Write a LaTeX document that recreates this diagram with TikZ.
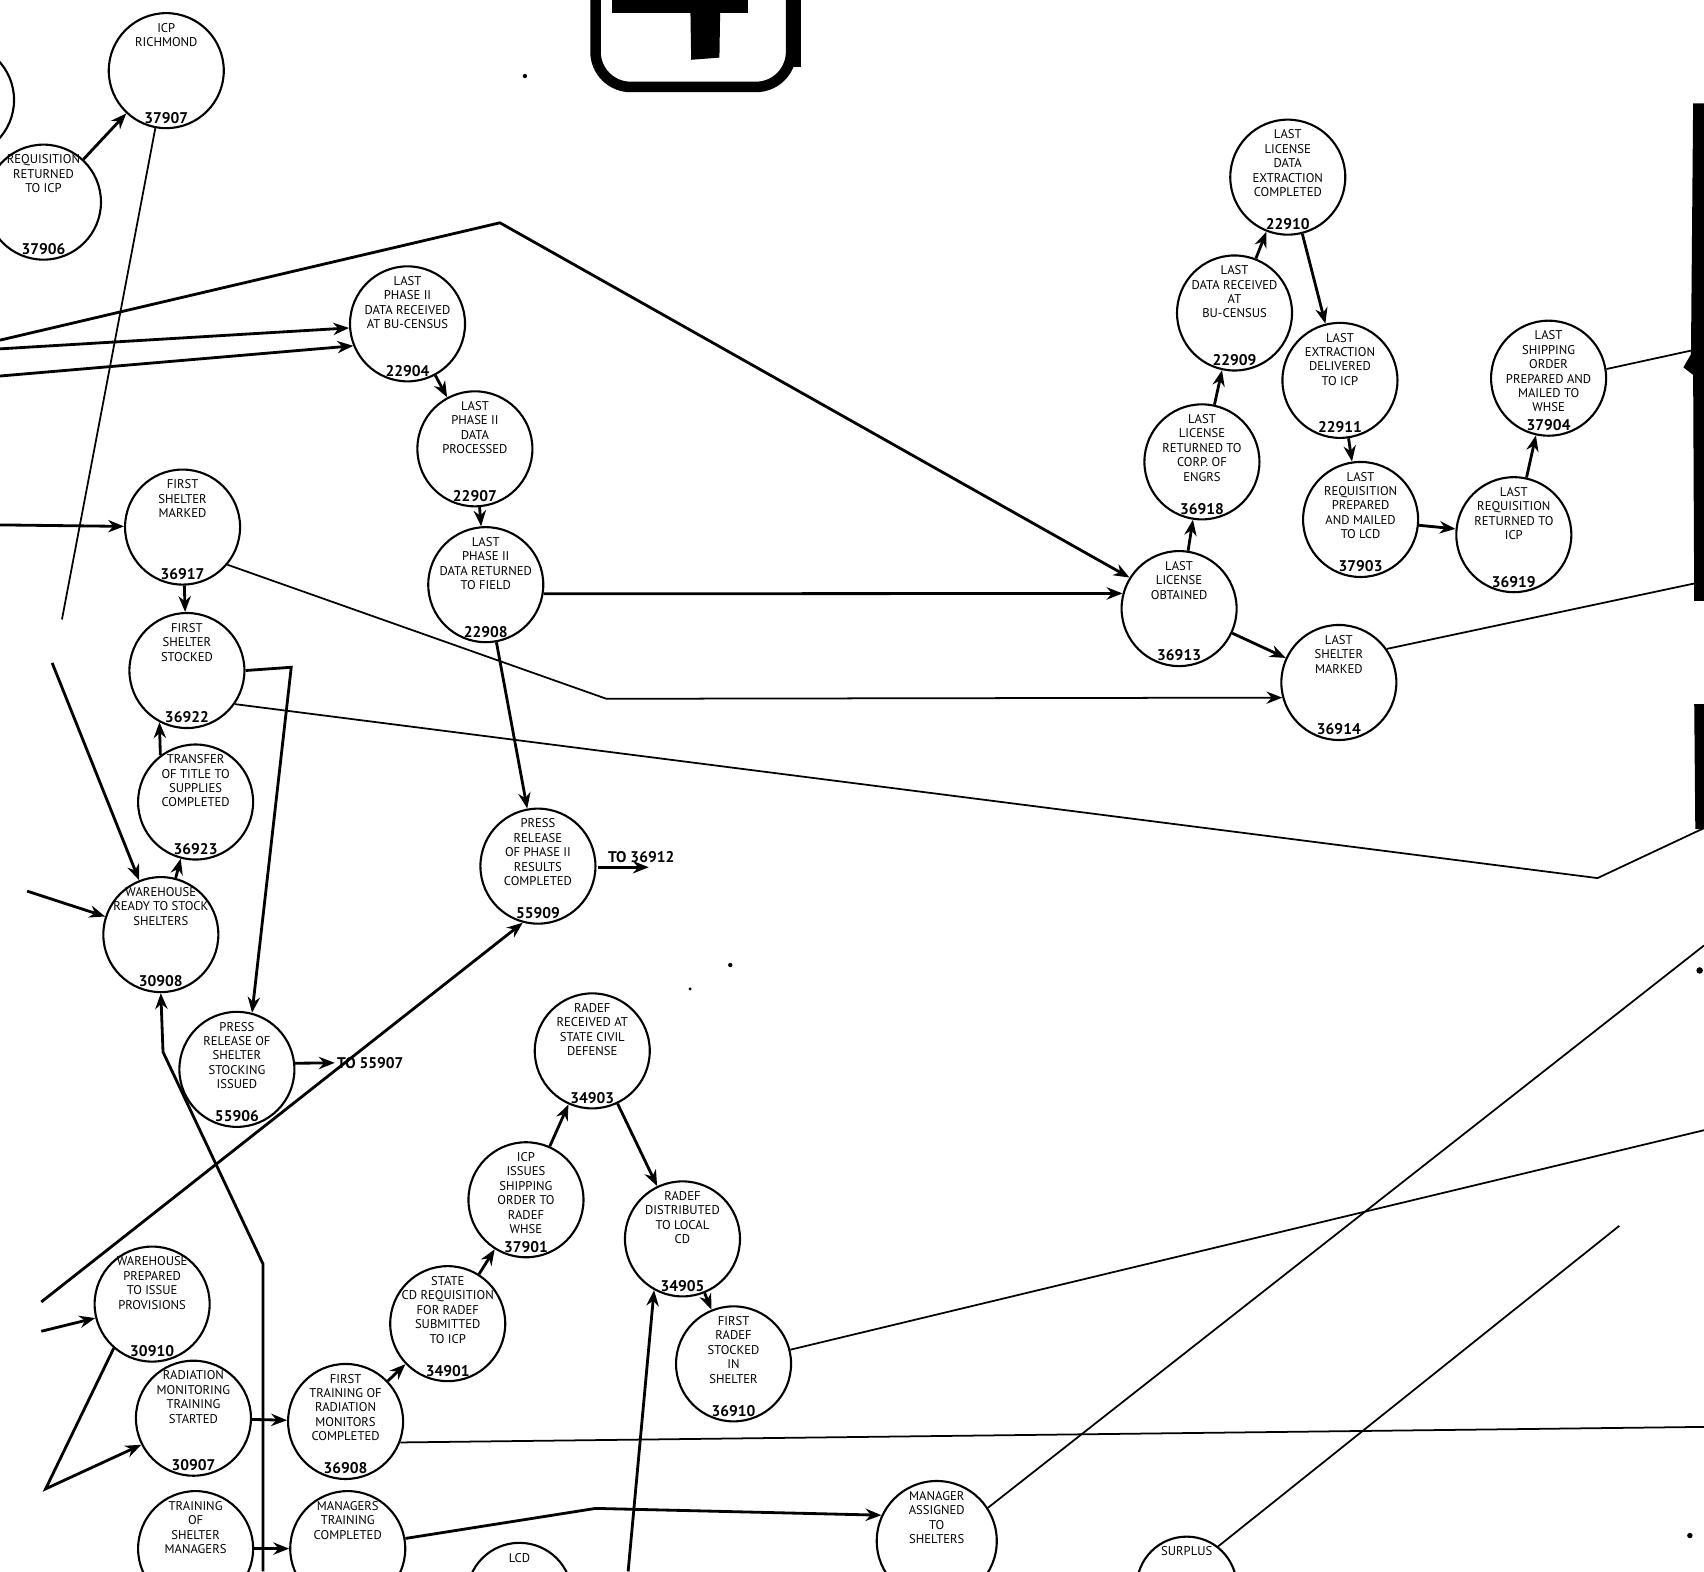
\documentclass[tikz,border=0pt]{standalone}
\usepackage{fontspec}
\setmainfont{PT Sans}
\usetikzlibrary{arrows.meta}

\begin{document}
\begin{tikzpicture}[x=0.0108675cm,y=-0.0108675cm,
    ev/.style 2 args={shape=circle,draw=black,line width=0.6pt,minimum size=1.15cm,inner sep=0pt,
      label={[evtext]90:#1},label={[evnum]-90:#2}},
    evtext/.style={anchor=north,yshift=-2.5pt,align=center,inner sep=0.5pt,font=\fontsize{3.6}{4.1}\selectfont},
    evnum/.style={anchor=south,yshift=1pt,inner sep=0.5pt,font=\fontsize{4.4}{5}\selectfont\bfseries},
    arr/.style={-{Stealth[length=4.5pt,width=3.5pt]},line width=0.8pt},
    wire/.style={line width=0.5pt},
    note/.style={font=\fontsize{4.4}{5}\selectfont\bfseries,inner sep=0.5pt}]
    \useasboundingbox (0,0) rectangle (1568,1446);
    \clip (0,0) rectangle (1568,1446);

    % page number box
    \draw[line width=3pt,rounded corners=10pt] (548,-30) -- (548,80) -- (728,80) -- (728,-30);
    \draw[line width=4pt] (731,-30) -- (731,62);
    \fill (563,-10) rectangle (688,12);
    \fill (635,-10) -- (663,-10) -- (662,53) -- (636,55) -- cycle;
    % right border of the sheet
    \fill (1558,95) -- (1568,95) -- (1568,553) -- (1559,553) -- (1558,345) -- (1549,338) -- (1556,326) -- cycle;
    \fill (1559,648) -- (1568,648) -- (1568,763) -- (1560,763) -- cycle;
    \fill (1564,893) circle (3);

    % events
    \node[ev={}{}] (Eleft) at (-40,92) {};
    \node[ev={ICP\\RICHMOND}{37907}] (E37907) at (153,65) {};
    \node[ev={REQUISITION\\RETURNED\\TO ICP}{37906}] (E37906) at (40,186) {};
    \node[ev={LAST\\PHASE II\\DATA RECEIVED\\AT BU-CENSUS}{22904}] (E22904) at (375,298) {};
    \node[ev={LAST\\PHASE II\\DATA\\PROCESSED}{22907}] (E22907) at (437,413) {};
    \node[ev={LAST\\PHASE II\\DATA RETURNED\\TO FIELD}{22908}] (E22908) at (447,538) {};
    \node[ev={FIRST\\SHELTER\\MARKED}{36917}] (E36917) at (168,485) {};
    \node[ev={FIRST\\SHELTER\\STOCKED}{36922}] (E36922) at (172,617) {};
    \node[ev={TRANSFER\\OF TITLE TO\\SUPPLIES\\COMPLETED}{36923}] (E36923) at (180,738) {};
    \node[ev={WAREHOUSE\\READY TO STOCK\\SHELTERS}{30908}] (E30908) at (148,860) {};
    \node[ev={PRESS\\RELEASE OF\\SHELTER\\STOCKING\\ISSUED}{55906}] (E55906) at (218,984) {};
    \node[ev={PRESS\\RELEASE\\OF PHASE II\\RESULTS\\COMPLETED}{55909}] (E55909) at (495,797) {};
    \node[ev={RADEF\\RECEIVED AT\\STATE CIVIL\\DEFENSE}{34903}] (E34903) at (545,967) {};
    \node[ev={ICP\\ISSUES\\SHIPPING\\ORDER TO\\RADEF\\WHSE}{37901}] (E37901) at (484,1104) {};
    \node[ev={RADEF\\DISTRIBUTED\\TO LOCAL\\CD}{34905}] (E34905) at (628,1140) {};
    \node[ev={FIRST\\RADEF\\STOCKED\\IN\\SHELTER}{36910}] (E36910) at (675,1255) {};
    \node[ev={STATE\\CD REQUISITION\\FOR RADEF\\SUBMITTED\\TO ICP}{34901}] (E34901) at (412,1218) {};
    \node[ev={WAREHOUSE\\PREPARED\\TO ISSUE\\PROVISIONS}{30910}] (E30910) at (140,1200) {};
    \node[ev={RADIATION\\MONITORING\\TRAINING\\STARTED}{30907}] (E30907) at (178,1305) {};
    \node[ev={FIRST\\TRAINING OF\\RADIATION\\MONITORS\\COMPLETED}{36908}] (E36908) at (318,1308) {};
    \node[ev={TRAINING\\OF\\SHELTER\\MANAGERS}{}] (Etrain) at (180,1425) {};
    \node[ev={MANAGERS\\TRAINING\\COMPLETED}{}] (Emgrtrain) at (320,1425) {};
    \node[ev={LCD}{},minimum size=1.05cm] (Elcd) at (478,1468) {};
    \node[ev={MANAGER\\ASSIGNED\\TO\\SHELTERS}{},minimum size=1.2cm] (Emgrasg) at (862,1418) {};
    \node[ev={SURPLUS}{},minimum size=1cm] (Esurplus) at (1092,1460) {};
    \node[ev={LAST\\LICENSE\\DATA\\EXTRACTION\\COMPLETED}{22910}] (E22910) at (1185,163) {};
    \node[ev={LAST\\DATA RECEIVED\\AT\\BU-CENSUS}{22909}] (E22909) at (1136,288) {};
    \node[ev={LAST\\EXTRACTION\\DELIVERED\\TO ICP}{22911}] (E22911) at (1233,350) {};
    \node[ev={LAST\\LICENSE\\RETURNED TO\\CORP. OF\\ENGRS}{36918}] (E36918) at (1106,425) {};
    \node[ev={LAST\\REQUISITION\\PREPARED\\AND MAILED\\TO LCD}{37903}] (E37903) at (1252,478) {};
    \node[ev={LAST\\REQUISITION\\RETURNED TO\\ICP}{36919}] (E36919) at (1393,492) {};
    \node[ev={LAST\\SHIPPING\\ORDER\\PREPARED AND\\MAILED TO\\WHSE}{37904}] (E37904) at (1425,348) {};
    \node[ev={LAST\\LICENSE\\OBTAINED}{36913}] (E36913) at (1085,560) {};
    \node[ev={LAST\\SHELTER\\MARKED}{36914}] (E36914) at (1232,628) {};

    \node[note,anchor=west] (N55907) at (308,978) {TO 55907};
    \node[note] (N36912) at (590,789) {TO 36912};

    % loose ends
    \coordinate (L1) at (0,313);
    \coordinate (L2) at (0,321);
    \coordinate (L3) at (0,346);
    \coordinate (L4) at (0,483);
    \coordinate (P1) at (460,205);
    \coordinate (K1) at (57,570);
    \coordinate (K2) at (558,643);
    \coordinate (K3) at (268,614);
    \coordinate (K4) at (1470,808);
    \coordinate (K5) at (1568,762);
    \coordinate (K6) at (25,820);
    \coordinate (K7) at (48,610);
    \coordinate (K8) at (242,1446);
    \coordinate (K9) at (242,1163);
    \coordinate (K10) at (150,968);
    \coordinate (K11) at (38,1198);
    \coordinate (K12) at (38,1225);
    \coordinate (K13) at (42,1370);
    \coordinate (K14) at (578,1446);
    \coordinate (K15) at (1568,1040);
    \coordinate (K16) at (1568,1313);
    \coordinate (K17) at (548,1388);
    \coordinate (K18) at (1568,870);
    \coordinate (K19) at (1490,1128);
    \coordinate (K20) at (1568,535);
    \coordinate (K21) at (1568,320);
    \coordinate (A1) at (550,798);
    \coordinate (A2) at (597,798);

    % connectors
    \path [arr](E37906) edge (E37907);
    \draw[wire] (E37907) -- (K1);
    \draw[arr] (L1) -- (P1) -- (E36913.148);
    \draw[arr] (L2) -- (E22904.184);
    \draw[arr] (L3) -- (E22904.202);
    \draw[arr] (L4) -- (E36917);
    \path [arr](E22904) edge (E22907);
    \path [arr](E22907) edge (E22908);
    \draw[arr] (E22908.-9) -- (E36913.165);
    \path [arr](E22908) edge (E55909);
    \path [arr](E36917) edge (E36922);
    \draw[arr,wire] (E36917.-40) -- (K2) -- (E36914.195);
    \draw[arr] (E36922.east) -- (K3) -- (E55906.75);
    \draw[wire] (E36922.-35) -- (K4) -- (K5);
    \draw[arr] (E36923.127) -- (E36922.242);
    \path [arr](E30908) edge (E36923);
    \draw[arr] (K6) -- (E30908);
    \draw[arr] (K7) -- (E30908);
    \draw[arr] (K8) -- (K9) -- (K10) -- (E30908.south);
    \draw[arr] (E55906.6) -- (N55907.west);
    \draw[arr] (A1) -- (A2);
    \draw[arr] (K11) -- (E55909.255);
    \draw[arr] (K12) -- (E30910);
    \draw[arr] (E30910.229) -- (K13) -- (E30907.207);
    \path [arr](E30907) edge (E36908);
    \path [arr](E36908) edge (E34901);
    \path [arr](E34901) edge (E37901);
    \path [arr](E37901) edge (E34903);
    \path [arr](E34903) edge (E34905);
    \path [arr](E34905) edge (E36910);
    \draw[arr] (K14) -- (E34905.241);
    \draw[wire] (E36910.14) -- (K15);
    \draw[wire] (E36908.-21) -- (K16);
    \draw[arr] (Emgrtrain.10) -- (K17) -- (Emgrasg.155);
    \path [arr](Etrain) edge (Emgrtrain);
    \draw[wire] (Emgrasg.33) -- (K18);
    \draw[wire] (Esurplus.52) -- (K19);
    \draw[wire] (E36914.35) -- (K20);
    \draw[wire] (E37904.9) -- (K21);
    \path [arr](E36913) edge (E36918);
    \path [arr](E36918) edge (E22909);
    \path [arr](E22909) edge (E22910);
    \path [arr](E22910) edge (E22911);
    \path [arr](E22911) edge (E37903);
    \path [arr](E37903) edge (E36919);
    \path [arr](E36919) edge (E37904);
    \path [arr](E36913) edge (E36914);

    % specks on the sheet
    \fill (483,70) circle (2);
    \fill (672,888) circle (2);
    \fill (635,910) circle (1.5);
    \fill (1555,1413) circle (2.5);
\end{tikzpicture}
\end{document}
